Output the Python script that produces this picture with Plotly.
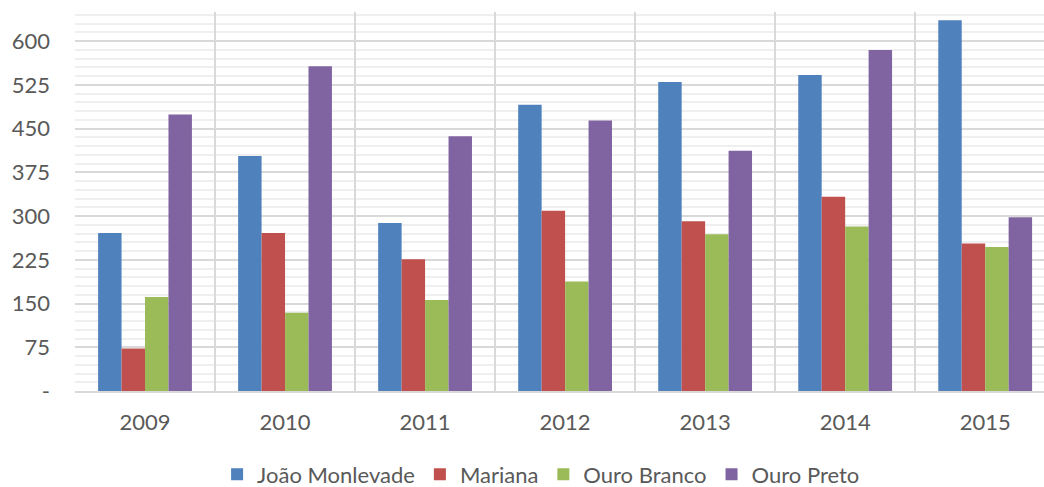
import plotly.graph_objects as go

years = ["2009", "2010", "2011", "2012", "2013", "2014", "2015"]
joao_monlevade = [271, 403, 288, 491, 530, 542, 636]
mariana = [73, 271, 226, 309, 291, 333, 253]
ouro_branco = [161, 134, 156, 188, 269, 282, 247]
ouro_preto = [474, 557, 437, 464, 412, 585, 298]

series = [
    ("João Monlevade", joao_monlevade, "#4F81BD"),
    ("Mariana", mariana, "#C0504D"),
    ("Ouro Branco", ouro_branco, "#9BBB59"),
    ("Ouro Preto", ouro_preto, "#8064A2"),
]

y_tickvals = [0, 75, 150, 225, 300, 375, 450, 525, 600]
y_ticktext = ["-", "75", "150", "225", "300", "375", "450", "525", "600"]

FONT = "Lato, 'Open Sans', sans-serif"
TXT = "#595959"

fig = go.Figure()
for name, vals, col in series:
    fig.add_trace(go.Bar(x=years, y=vals, name=name, marker=dict(color=col, line=dict(width=0))))

# light vertical lines at category centers
for yr in years:
    fig.add_shape(type="line", xref="x", yref="paper", x0=yr, x1=yr, y0=0, y1=1,
                  line=dict(color="#efefef", width=1.5), layer="below")

fig.update_layout(
    width=1044, height=487,
    margin=dict(l=75, r=0, t=12, b=96, autoexpand=False),
    paper_bgcolor="white", plot_bgcolor="white",
    barmode="group", bargap=0.33, bargroupgap=0,
    font=dict(family=FONT, size=22, color=TXT),
    showlegend=True,
    legend=dict(orientation="h", x=0.481, xanchor="center", y=-0.165, yanchor="top",
                font=dict(size=22, color=TXT), itemwidth=30, traceorder="normal"),
)
fig.update_xaxes(
    type="category", range=[-0.5, 6.42], tickson="boundaries", automargin=False,
    showgrid=True, gridcolor="#d9d9d9", gridwidth=1.5,
    showline=True, linecolor="#d9d9d9", linewidth=2,
    ticks="", ticklabelstandoff=11, tickfont=dict(size=22, color=TXT),
)
fig.update_yaxes(
    range=[0, 650], tickvals=y_tickvals, ticktext=y_ticktext, automargin=False,
    showgrid=True, gridcolor="#d9d9d9", gridwidth=1.5,
    zeroline=False, showline=False, ticks="",
    ticklabelstandoff=24, tickfont=dict(size=22, color=TXT),
    minor=dict(dtick=15, showgrid=True, gridcolor="#efefef", gridwidth=1.5),
)

fig.write_html("out.html", config={"displayModeBar": False},
               post_script="document.body.style.margin='0';document.body.style.overflow='hidden';")
